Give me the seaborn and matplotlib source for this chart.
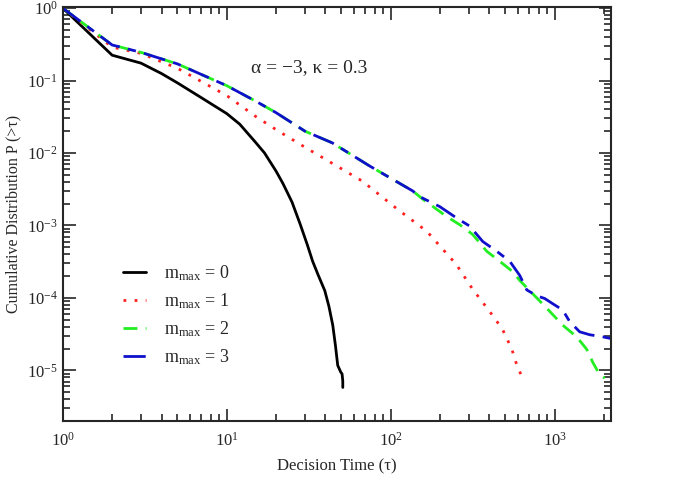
import numpy as np
import pandas as pd
import seaborn as sns
from matplotlib import pyplot as plt

# decision time tau and cumulative distribution P(>tau)
tau_m0 = [1, 2, 3, 4, 5, 7, 10, 12, 15, 17, 20, 22, 25, 28, 31, 33.4, 36,
          39.6, 42, 44.3, 46, 47.5, 49.5, 50.5, 51, 51]
p_m0 = [1, 0.224, 0.174, 0.125, 0.093, 0.058, 0.035, 0.025, 0.014, 0.01,
        0.0056, 0.0038, 0.0021, 0.00105, 5.4e-4, 3.2e-4, 2.1e-4, 1.26e-4,
        7.6e-5, 4.2e-5, 2.2e-5, 1.17e-5, 9.5e-6, 8.9e-6, 7.1e-6, 5.8e-6]

tau_m1 = [1, 2, 3, 5, 10, 15, 20, 30, 44, 67, 109, 166, 251, 315, 401, 480,
          548, 588, 640]
p_m1 = [1, 0.29, 0.237, 0.148, 0.062, 0.032, 0.021, 0.012, 0.0072, 0.0041,
        0.0017, 8.3e-4, 2.9e-4, 1.33e-4, 6.5e-5, 3.7e-5, 1.95e-5, 1.17e-5, 7.6e-6]

tau_m2 = [1, 2, 3, 5, 10, 15, 20, 30, 44, 74.5, 136, 157, 219, 264, 316, 385,
          462, 555, 612, 777, 933, 1119, 1361, 1567, 1706, 1880, 2018]
p_m2 = [1, 0.31, 0.245, 0.17, 0.085, 0.052, 0.036, 0.020, 0.0138, 0.0066,
        0.0030, 2.3e-3, 1.33e-3, 1.02e-3, 7.5e-4, 4.4e-4, 3.2e-4, 2.3e-4,
        1.74e-4, 1.0e-4, 6.5e-5, 4.2e-5, 2.9e-5, 1.95e-5, 1.29e-5, 8.7e-6, 7.8e-6]

tau_m3 = [1, 2, 3, 5, 10, 15, 20, 30, 44, 74.5, 136, 150, 199, 253, 303, 364,
          443, 532, 612, 675, 777, 869, 973, 1119, 1234, 1420, 1634, 1963, 2195]
p_m3 = [1, 0.31, 0.245, 0.17, 0.085, 0.052, 0.036, 0.020, 0.0138, 0.0066,
        0.0030, 2.5e-3, 1.82e-3, 1.26e-3, 9.8e-4, 6.0e-4, 4.4e-4, 3.2e-4,
        2.04e-4, 1.29e-4, 1.07e-4, 9.8e-5, 8.3e-5, 6.8e-5, 4.7e-5, 3.4e-5,
        3.1e-5, 2.9e-5, 2.75e-5]

x_ticks = [1, 10, 100, 1000]
y_ticks = [1e-5, 1e-4, 1e-3, 1e-2, 1e-1, 1]

etiquetas = [r"$\mathrm{m}_{\mathrm{max}}$ = 0", r"$\mathrm{m}_{\mathrm{max}}$ = 1",
             r"$\mathrm{m}_{\mathrm{max}}$ = 2", r"$\mathrm{m}_{\mathrm{max}}$ = 3"]

sns.set_style("ticks")
plt.rcParams["font.family"] = ["Liberation Serif", "DejaVu Serif"]
plt.rcParams["mathtext.fontset"] = "custom"
plt.rcParams["mathtext.rm"] = "Liberation Serif"
plt.rcParams["mathtext.it"] = "Liberation Serif:italic"

fig, ax = plt.subplots(figsize=(6.75, 4.8), dpi=100)
plt.subplots_adjust(left=0.093, right=0.905, top=0.985, bottom=0.123)

series = [
    (tau_m0, p_m0, "black", "-"),
    (tau_m1, p_m1, "#ff2020", (0, (1, 3))),
    (tau_m2, p_m2, "#22ee22", (0, (5, 3))),
    (tau_m3, p_m3, "#1010cc", (0, (8, 3, 3, 3))),
]
for (t, p, color, ls), etiqueta in zip(series, etiquetas):
    df = pd.DataFrame({"tau": t, "P": p})
    sns.lineplot(data=df, x="tau", y="P", ax=ax, color=color, linestyle=ls,
                 linewidth=2.0, label=etiqueta, sort=False, estimator=None)

ax.set_xscale("log")
ax.set_yscale("log")
ax.set_xlim(1, 2200)
ax.set_ylim(2e-6, 1.03)
ax.set_xticks(x_ticks)
ax.set_yticks(y_ticks)
ax.yaxis.set_minor_locator(plt.LogLocator(base=10, subs=np.arange(2, 10), numticks=10))
ax.xaxis.set_minor_formatter(plt.NullFormatter())
ax.yaxis.set_minor_formatter(plt.NullFormatter())
ax.set_xlabel("Decision Time (τ)", fontsize=12, labelpad=6)
ax.set_ylabel("Cumulative Distribution P (>τ)", fontsize=11.5)
ax.tick_params(which="both", direction="in", top=True, right=True,
               labelsize=12, width=1.2)
ax.tick_params(which="major", length=9)
ax.tick_params(which="minor", length=5)
ax.tick_params(axis="x", which="major", pad=8)
for lado in ax.spines.values():
    lado.set_linewidth(1.5)

ax.text(0.45, 0.853, "α = −3, κ = 0.3", transform=ax.transAxes,
        ha="center", va="center", fontsize=14)

ax.legend(loc="upper left", bbox_to_anchor=(0.08, 0.42), frameon=False,
          fontsize=13, handlelength=1.3, labelspacing=0.45, handletextpad=1.0)

plt.savefig("out.png", dpi=100)
plt.close()
